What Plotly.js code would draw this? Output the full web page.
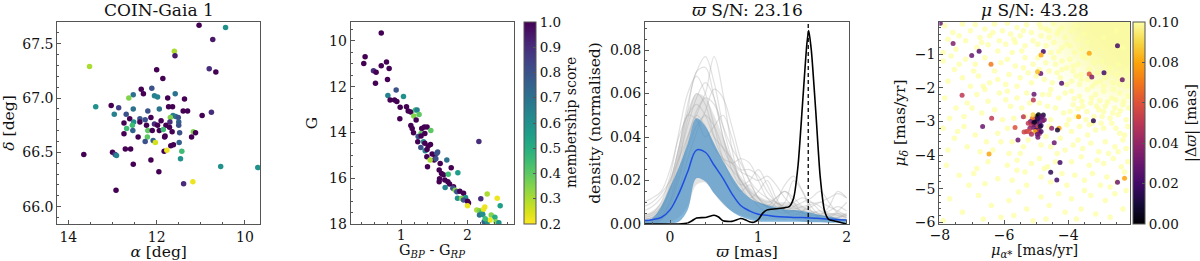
<!DOCTYPE html>
<html><head><meta charset="utf-8">
<script src="https://cdn.plot.ly/plotly-3.0.1.min.js"></script>
<style>body{margin:0;background:#fff}#plot{width:1200px;height:261px}</style>
</head><body><div id="plot"></div>
<script>
// ---------- Panel 1: sky positions ----------
const ra = [11.04,10.44,10.73,11.60,11.585,13.52,10.81,10.66,12.00,11.86,
12.11,12.35,12.30,12.53,12.63,12.05,11.98,11.58,11.75,11.37,
13.38,13.03,12.86,12.53,11.73,11.64,11.94,12.20,11.40,11.30,
10.76,10.97,12.96,12.69,12.13,12.38,12.26,12.61,11.63,11.57,
11.51,11.69,11.70,11.90,11.79,11.50,11.50,12.74,12.52,12.55,
12.38,12.23,12.05,11.98,12.68,12.20,12.10,11.94,11.85,11.71,
11.65,11.48,11.17,11.12,11.21,12.74,12.54,12.42,12.21,12.08,
12.26,12.03,11.81,11.82,11.68,11.62,11.49,12.71,12.59,11.83,
11.77,11.43,13.65,13.00,12.94,12.91,11.46,12.13,12.53,10.55,
9.71,11.95,11.39,11.18,12.92];
const dec = [67.67,67.65,67.54,67.43,67.39,67.29,67.27,67.24,67.26,67.18,
67.09,67.08,67.04,67.03,67.00,67.02,67.01,67.04,67.00,66.99,
66.92,66.93,66.91,66.90,66.92,66.92,66.90,66.88,66.88,66.88,
66.87,66.84,66.85,66.85,66.82,66.81,66.80,66.81,66.84,66.83,
66.82,66.82,66.78,66.79,66.75,66.78,66.75,66.77,66.78,66.75,
66.78,66.75,66.76,66.75,66.72,66.70,66.70,66.70,66.71,66.73,
66.69,66.68,66.69,66.68,66.64,66.67,66.70,66.64,66.64,66.61,
66.60,66.59,66.65,66.64,66.56,66.57,66.59,66.53,66.53,66.51,
66.52,66.51,66.48,66.50,66.48,66.47,66.44,66.43,66.39,66.37,
66.36,66.32,66.21,66.23,66.15];
const skyScore = [1.0,0.6,0.95,0.3,0.95,0.3,0.9,1.0,1.0,1.0,
0.8,1.0,1.0,0.7,0.35,0.65,0.65,0.7,1.0,1.0,
0.6,1.0,0.85,0.7,1.0,1.0,0.7,0.8,1.0,1.0,
0.9,1.0,0.65,0.8,1.0,0.8,0.8,1.0,0.65,0.7,
0.8,0.35,0.9,1.0,1.0,0.75,0.8,1.0,0.6,0.45,
1.0,1.0,0.9,1.0,0.45,0.4,1.0,1.0,0.45,1.0,
1.0,0.8,0.35,1.0,1.0,1.0,0.75,1.0,0.4,0.75,
0.8,0.25,1.0,1.0,1.0,1.0,0.75,1.0,1.0,1.0,
0.22,0.45,1.0,1.0,0.85,0.65,0.6,1.0,1.0,0.6,
0.6,1.0,0.9,0.22,1.0];

// ---------- Panel 2: CMD ----------
const bprp = [0.70,0.457,0.437,0.779,0.70,0.819,0.583,0.623,0.613,0.794,
0.925,0.80,1.035,0.834,0.90,0.935,0.985,1.08,1.106,1.146,
1.216,1.24,1.27,1.19,1.226,0.98,1.146,1.166,1.186,1.31,
1.35,1.39,1.30,1.256,1.30,1.357,1.447,1.25,1.337,1.296,
1.357,1.407,1.442,1.362,1.39,1.387,1.467,1.508,1.538,1.497,
1.523,1.437,1.55,1.397,1.588,1.688,1.573,1.754,1.608,1.638,
1.578,1.573,1.658,1.709,1.854,1.704,1.729,1.789,1.663,1.779,
1.814,1.839,1.884,1.94,1.97,1.849,1.91,1.94,2.0,2.015,
2.0,2.171,2.20,2.296,2.447,2.492,2.14,2.18,2.216,2.241,
2.26,2.18,2.23,2.357,2.412,2.251,2.30,2.34,2.43,2.472,2.266];
const gmag = [9.65,10.69,10.98,10.92,11.08,11.20,11.30,11.37,11.85,11.68,
12.14,12.38,12.43,12.58,12.58,12.64,12.90,12.87,13.06,13.10,
13.02,13.02,13.21,13.28,13.45,13.40,13.69,13.82,14.01,13.82,
13.76,13.76,14.04,14.18,14.15,14.04,13.91,14.40,14.40,14.66,
14.47,14.59,14.53,14.80,14.74,15.06,14.94,14.99,14.91,15.20,
15.15,15.20,14.85,15.50,15.35,15.20,15.64,15.54,15.79,15.85,
16.02,16.15,16.08,15.82,15.76,16.15,16.25,16.37,16.40,16.44,
16.52,16.59,16.57,16.66,16.84,16.87,16.88,16.95,17.01,17.08,
17.20,14.39,16.90,16.69,16.87,17.20,17.39,17.42,17.48,17.36,
17.26,17.61,17.58,17.61,17.71,17.90,17.90,17.83,17.90,17.94,17.77];
const cmdScore = [1.0,1.0,1.0,1.0,1.0,1.0,0.9,1.0,1.0,1.0,
0.8,0.65,0.6,1.0,1.0,1.0,1.0,1.0,1.0,1.0,
0.45,0.65,0.4,0.35,1.0,1.0,1.0,1.0,1.0,1.0,
1.0,1.0,0.4,0.8,1.0,1.0,0.4,1.0,0.6,0.8,
1.0,1.0,1.0,0.65,1.0,1.0,1.0,1.0,0.8,1.0,
0.8,0.3,0.8,1.0,1.0,0.7,1.0,1.0,1.0,1.0,
1.0,1.0,1.0,0.45,0.55,1.0,1.0,1.0,0.65,0.8,
0.35,0.8,1.0,1.0,0.6,0.6,0.35,0.8,1.0,1.0,
0.22,0.9,0.9,0.3,0.22,0.55,0.3,0.35,0.45,0.22,
0.22,0.7,0.6,0.35,0.5,0.75,0.6,0.22,0.35,0.6,0.45];

// ---------- Panel 3: parallax densities ----------
const plxGrid = [-0.3,-0.2,-0.1,0.0,0.1,0.2,0.3,0.4,0.5,0.6,0.7,0.8,0.9,1.0,1.1,1.2,1.3,1.4,1.5,1.6,1.7,1.8,1.9,2.0];
const grayCoreHi = [0.004,0.006,0.010,0.020,0.036,0.052,0.060,0.058,0.050,0.040,0.030,0.022,0.017,0.013,0.011,0.010,0.010,0.010,0.008,0.006,0.005,0.005,0.005,0.004];
const grayCoreLo = [0,0,0,0.001,0.003,0.008,0.018,0.019,0.014,0.009,0.006,0.004,0.003,0.002,0.002,0.002,0.002,0.002,0.001,0.001,0.001,0.001,0.001,0.001];
const g1 = [0.006,0.008,0.012,0.02,0.035,0.055,0.07,0.077,0.065,0.045,0.03,0.02,0.015,0.012,0.01,0.012,0.015,0.012,0.008,0.006,0.005,0.006,0.008,0.006];
const g2 = [0.001,0.002,0.005,0.012,0.028,0.048,0.06,0.055,0.04,0.03,0.025,0.02,0.014,0.01,0.008,0.007,0.01,0.02,0.015,0.008,0.004,0.003,0.005,0.004];
const g3 = [0.0,0.001,0.003,0.01,0.025,0.04,0.052,0.06,0.077,0.06,0.035,0.018,0.012,0.015,0.02,0.012,0.006,0.004,0.006,0.01,0.008,0.004,0.002,0.002];
const g4 = [0.01,0.012,0.015,0.025,0.04,0.05,0.055,0.05,0.04,0.035,0.03,0.025,0.025,0.022,0.015,0.01,0.008,0.01,0.012,0.01,0.006,0.004,0.006,0.01];
const g5 = [0.003,0.004,0.008,0.018,0.035,0.05,0.048,0.04,0.045,0.05,0.04,0.025,0.015,0.008,0.006,0.01,0.018,0.022,0.015,0.006,0.003,0.002,0.003,0.004];
const g6 = [0.002,0.003,0.006,0.015,0.03,0.045,0.058,0.065,0.058,0.04,0.025,0.018,0.02,0.025,0.018,0.01,0.006,0.005,0.004,0.003,0.004,0.008,0.015,0.012];
const g7 = [0.0,0.001,0.002,0.008,0.02,0.035,0.045,0.05,0.045,0.035,0.028,0.03,0.028,0.02,0.012,0.008,0.006,0.008,0.01,0.012,0.015,0.01,0.005,0.003];
const g8 = [0.004,0.005,0.01,0.022,0.042,0.06,0.068,0.06,0.045,0.03,0.02,0.015,0.018,0.012,0.008,0.006,0.005,0.006,0.005,0.004,0.004,0.003,0.002,0.002];
const g9 = [0.0,0.0,0.002,0.006,0.016,0.03,0.042,0.052,0.062,0.058,0.045,0.03,0.02,0.012,0.008,0.012,0.015,0.01,0.005,0.003,0.002,0.002,0.003,0.005];
const g10 = [0.008,0.01,0.014,0.02,0.03,0.04,0.05,0.058,0.055,0.045,0.035,0.028,0.02,0.015,0.012,0.01,0.008,0.007,0.008,0.009,0.01,0.008,0.006,0.004];
const g11 = [0.001,0.002,0.004,0.01,0.022,0.038,0.05,0.045,0.035,0.03,0.028,0.024,0.022,0.02,0.022,0.018,0.012,0.008,0.006,0.008,0.01,0.012,0.014,0.012];
const g12 = [0.002,0.003,0.007,0.016,0.032,0.052,0.07,0.072,0.058,0.04,0.028,0.02,0.014,0.01,0.009,0.008,0.007,0.006,0.005,0.005,0.006,0.005,0.004,0.003];
const blueHi = [0.001,0.0026,0.008,0.017,0.026,0.037,0.0486,0.045,0.037,0.029,0.022,0.016,0.012,0.010,0.0087,0.0077,0.0067,0.0064,0.006,0.0052,0.0041,0.0034,0.0026,0.0018];
const blueLo = [0,0,0,0.0003,0.001,0.0064,0.021,0.0195,0.014,0.0095,0.0057,0.0034,0.002,0.0012,0.001,0.001,0.001,0.001,0.001,0.0008,0.0008,0.0006,0.0006,0.0005];
const blueMed = [0.0015,0.002,0.003,0.0065,0.014,0.024,0.034,0.033,0.027,0.021,0.014,0.0085,0.006,0.0045,0.004,0.0035,0.0032,0.003,0.003,0.0028,0.0025,0.0022,0.002,0.0018];
const clusterPlxX = [-0.3,-0.1,0.1,0.2,0.25,0.3,0.4,0.5,0.55,0.6,0.7,0.8,0.85,0.9,0.95,1.0,1.05,1.1,1.2,1.3,1.35,1.4,1.45,1.5,1.55,1.57,1.6,1.65,1.7,1.75,1.8,1.85,1.9,2.0];
const clusterPlxY = [0,0,0,0.0005,0.0015,0.0028,0.003,0.004,0.0032,0.0015,0.0012,0.0025,0.002,0.001,0.0008,0.002,0.005,0.0065,0.007,0.0075,0.008,0.012,0.027,0.055,0.083,0.089,0.080,0.052,0.022,0.006,0.002,0.0015,0.001,0.0];
const plxCluster = 1.565;

// ---------- Panel 4: proper motions ----------
const pmRA = [-7.99,-7.59,-7.01,-6.78,-6.41,-7.31,-6.39,-6.67,-6.47,-5.66,-5.57,-4.78,-4.85,-4.86,-5.07,-5.09,-4.21,-4.96,-4.52,-4.29,-4.34,-4.44,-4.26,-4.55,-4.36,-4.78,-4.95,-4.90,-3.35,-3.35,-3.27,-2.89,-2.47,-2.32,-3.68,-3.22,-2.47,-2.25,-5.40,-5.30,-5.38,
-5.00,-4.93,-4.88,-5.05,-4.98,-5.10,-4.90,-5.02,-5.15,-4.85,-5.08,-4.95,-5.20,-5.00,-4.92,-5.12,-4.80,-5.18,-4.95,-5.06,-4.88,-5.25,-4.75,-5.04,-5.10,-4.85,-5.22,-5.15,-4.97,-4.82];
const pmDec = [-0.08,-0.68,-1.04,-0.91,-1.30,-2.22,-2.90,-3.15,-3.97,-3.18,-3.55,-0.92,-1.02,-1.57,-2.19,-2.36,-1.86,-1.52,-3.20,-3.20,-3.25,-3.63,-4.22,-4.51,-4.74,-2.81,-3.47,-3.36,-0.97,-1.59,-1.68,-1.55,-0.75,-1.76,-2.86,-2.98,-4.81,-4.69,-2.86,-3.30,-3.31,
-2.85,-2.80,-2.90,-2.95,-3.00,-3.05,-3.05,-3.10,-3.10,-3.12,-3.18,-3.20,-3.20,-3.25,-3.28,-2.90,-2.98,-3.00,-2.92,-3.02,-3.15,-3.05,-2.95,-3.30,-2.80,-3.30,-3.30,-3.38,-3.38,-2.85];
const dPlx = [0.03,0.035,0.03,0.025,0.07,0.05,0.05,0.03,0.08,0.06,0.03,0.02,0.08,0.03,0.03,0.05,0.025,0.085,0.04,0.08,0.01,0.03,0.02,0.015,0.02,0.01,0.03,0.04,0.08,0.06,0.035,0.02,0.02,0.03,0.08,0.015,0.03,0.08,0.05,0.05,0.055,
0.01,0.0,0.02,0.03,0.01,0.02,0.03,0.04,0.05,0.02,0.03,0.06,0.04,0.02,0.05,0.07,0.03,0.03,0.015,0.005,0.01,0.05,0.035,0.08,0.09,0.02,0.06,0.045,0.03,0.025];
// field stars (|Δϖ| beyond colour range)
const fieldStars = [
[-7.85,-0.15],[-7.6,-0.35],[-7.3,-0.1],[-7.75,-0.55],[-7.2,-0.6],[-7.5,-0.85],[-7.05,-0.3],[-7.9,-0.95],
[-6.9,-0.12],[-6.6,-0.25],[-6.3,-0.1],[-6.75,-0.5],[-6.45,-0.45],[-6.15,-0.6],[-6.85,-0.8],[-6.5,-0.72],[-6.2,-0.9],[-6.05,-0.3],
[-5.9,-0.08],[-5.6,-0.2],[-5.3,-0.12],[-5.8,-0.4],[-5.5,-0.45],[-5.15,-0.35],[-5.95,-0.7],[-5.65,-0.65],[-5.35,-0.75],[-5.1,-0.6],[-5.75,-0.95],[-5.45,-0.9],
[-4.9,-0.1],[-4.7,-0.25],[-4.45,-0.08],[-4.2,-0.2],[-4.85,-0.45],[-4.6,-0.5],[-4.35,-0.4],[-4.1,-0.5],[-4.95,-0.7],[-4.7,-0.75],[-4.45,-0.65],[-4.2,-0.8],[-4.55,-0.95],[-4.3,-0.92],[-4.05,-0.7],
[-3.9,-0.3],[-3.7,-0.55],[-3.95,-0.75],[-3.6,-0.85],[-3.8,-0.95],[-3.5,-0.4],[-3.75,-0.15],[-3.4,-0.65],[-2.9,-0.5],[-2.5,-0.3],[-2.3,-0.8],
[-7.9,-1.2],[-7.55,-1.45],[-7.2,-1.15],[-7.75,-1.8],[-7.3,-1.7],[-7.05,-1.95],
[-6.9,-1.3],[-6.6,-1.1],[-6.3,-1.5],[-6.8,-1.65],[-6.45,-1.85],[-6.1,-1.25],[-6.65,-1.95],[-6.2,-1.75],
[-5.9,-1.15],[-5.65,-1.35],[-5.35,-1.1],[-5.1,-1.3],[-5.85,-1.6],[-5.5,-1.7],[-5.25,-1.55],[-5.95,-1.9],[-5.6,-1.95],[-5.15,-1.85],
[-4.95,-1.1],[-4.7,-1.25],[-4.45,-1.1],[-4.2,-1.2],[-4.05,-1.4],[-4.9,-1.45],[-4.6,-1.5],[-4.35,-1.55],[-4.75,-1.75],[-4.5,-1.85],[-4.25,-1.7],[-4.05,-1.9],
[-3.95,-1.15],[-3.7,-1.3],[-3.45,-1.1],[-3.2,-1.25],[-3.85,-1.5],[-3.6,-1.6],[-3.35,-1.45],[-3.1,-1.55],[-3.9,-1.8],[-3.65,-1.9],[-3.4,-1.75],[-3.15,-1.85],[-3.55,-1.05],[-3.25,-1.95],[-3.75,-1.65],
[-2.95,-1.2],[-2.7,-1.4],[-2.45,-1.3],[-2.2,-1.5],[-2.85,-1.7],[-2.6,-1.85],[-2.35,-1.75],[-2.15,-1.95],[-2.9,-1.95],[-2.5,-1.6],
[-7.85,-2.3],[-7.5,-2.6],[-7.15,-2.45],[-7.7,-2.9],[-7.25,-2.85],
[-6.85,-2.2],[-6.5,-2.4],[-6.15,-2.15],[-6.7,-2.75],[-6.3,-2.65],[-6.05,-2.95],
[-5.9,-2.1],[-5.6,-2.3],[-5.3,-2.15],[-5.8,-2.55],[-5.45,-2.6],[-5.2,-2.45],[-5.7,-2.9],[-5.35,-2.85],
[-4.8,-2.2],[-4.55,-2.05],[-4.3,-2.3],[-4.1,-2.15],[-4.65,-2.55],[-4.4,-2.6],[-4.15,-2.75],[-4.55,-2.95],
[-3.9,-2.1],[-3.65,-2.25],[-3.4,-2.05],[-3.15,-2.2],[-3.85,-2.5],[-3.55,-2.55],[-3.3,-2.45],[-3.05,-2.65],[-3.75,-2.85],[-3.45,-2.95],[-3.2,-2.85],[-3.95,-2.7],
[-2.9,-2.1],[-2.65,-2.3],[-2.4,-2.15],[-2.15,-2.25],[-2.85,-2.55],[-2.55,-2.6],[-2.3,-2.5],[-2.95,-2.85],[-2.7,-2.9],[-2.45,-2.8],[-2.2,-2.95],[-2.6,-2.05],
[-7.9,-3.2],[-7.55,-3.5],[-7.25,-3.15],[-7.75,-3.85],[-7.15,-3.75],
[-6.9,-3.4],[-6.55,-3.6],[-6.2,-3.35],[-6.75,-3.9],[-6.35,-3.85],
[-5.9,-3.2],[-5.75,-3.6],[-5.4,-3.75],[-5.25,-3.55],[-5.85,-3.95],[-5.5,-3.95],
[-4.7,-3.45],[-4.55,-3.75],[-4.25,-3.5],[-4.1,-3.85],[-4.85,-3.7],[-4.6,-3.15],[-4.35,-3.95],[-4.05,-3.1],
[-3.9,-3.3],[-3.65,-3.15],[-3.4,-3.4],[-3.15,-3.25],[-3.85,-3.7],[-3.55,-3.8],[-3.3,-3.65],[-3.05,-3.9],[-3.7,-3.55],[-3.25,-3.05],
[-2.9,-3.2],[-2.65,-3.05],[-2.4,-3.35],[-2.15,-3.15],[-2.85,-3.6],[-2.55,-3.75],[-2.3,-3.55],[-2.75,-3.95],[-2.45,-3.9],[-2.2,-3.8],
[-7.8,-4.3],[-7.4,-4.6],[-7.1,-4.9],
[-6.85,-4.4],[-6.5,-4.2],[-6.2,-4.7],[-6.6,-4.85],
[-5.9,-4.3],[-5.6,-4.15],[-5.35,-4.5],[-5.15,-4.25],[-5.75,-4.75],[-5.3,-4.9],
[-4.9,-4.1],[-4.65,-4.35],[-4.4,-4.2],[-4.85,-4.65],[-4.55,-4.8],[-4.2,-4.55],[-4.05,-4.9],
[-3.9,-4.2],[-3.6,-4.05],[-3.35,-4.3],[-3.1,-4.15],[-3.8,-4.6],[-3.5,-4.75],[-3.25,-4.55],[-3.0,-4.9],
[-2.9,-4.25],[-2.6,-4.1],[-2.35,-4.35],[-2.15,-4.2],[-2.8,-4.65],[-2.5,-4.8],[-2.25,-4.5],[-2.7,-4.95],
[-7.7,-5.3],[-7.3,-5.7],[-7.9,-5.95],
[-6.8,-5.2],[-6.4,-5.5],[-6.1,-5.85],[-6.65,-5.9],
[-5.85,-5.35],[-5.55,-5.1],[-5.3,-5.6],[-5.7,-5.8],[-5.1,-5.95],
[-4.85,-5.25],[-4.6,-5.5],[-4.3,-5.15],[-4.1,-5.7],[-4.7,-5.9],
[-3.9,-5.3],[-3.6,-5.6],[-3.3,-5.2],[-3.75,-5.9],[-3.15,-5.75],[-3.5,-5.05],
[-2.85,-5.35],[-2.55,-5.15],[-2.3,-5.6],[-2.7,-5.85],[-2.2,-5.05],
[-3.82,-2.32],[-3.58,-2.4],[-3.28,-2.3],[-3.02,-2.38],[-2.78,-2.42],[-2.52,-2.35],[-2.28,-2.4],[-3.7,-2.62],[-3.42,-2.7],[-3.12,-2.55],
[-2.9,-2.7],[-2.62,-2.75],[-2.38,-2.68],[-2.12,-2.6],[-3.98,-2.95],[-3.35,-3.1],[-2.98,-3.05],[-2.52,-3.2],[-2.25,-3.4],[-3.6,-1.75],
[-3.3,-1.65],[-3.0,-1.8],[-2.75,-1.55],[-2.4,-1.9],[-4.2,-1.45],[-4.4,-1.3],[-3.85,-1.35],[-4.3,-0.3],[-4.6,-0.3],[-4.85,-0.2],
[-5.4,-0.3],[-5.7,-0.55],[-6.35,-0.35],[-6.7,-0.65],[-7.4,-0.45],[-7.65,-1.05],[-7.4,-1.3],[-6.95,-1.5],[-5.4,-1.4],[-5.0,-1.65],
[-4.6,-2.2],[-4.9,-2.45],[-5.95,-2.35],[-6.6,-2.05],[-7.0,-2.6],[-7.45,-3.3],[-6.1,-3.6],[-5.6,-4.45],[-6.95,-4.55],[-4.75,-4.4]];
// density of field stars in the crowded upper-right corner
const denseX = [-5.25,-4.75,-4.25,-3.75,-3.25,-2.75,-2.25,-1.75];
const denseY = [-2.75,-2.25,-1.75,-1.25,-0.75,-0.25,0.25];
const denseZ = [
 [0,0,0,0,0,0,0,0],
 [0,0,0,0.08,0.18,0.3,0.4,0.4],
 [0,0,0.08,0.22,0.45,0.65,0.8,0.8],
 [0,0.08,0.22,0.45,0.75,0.95,1,1],
 [0,0.15,0.4,0.7,0.95,1,1,1],
 [0,0.28,0.6,0.9,1,1,1,1],
 [0,0.28,0.6,0.9,1,1,1,1]];

const inferno = [[0,'#000004'],[0.1,'#160b39'],[0.2,'#420a68'],[0.3,'#6a176e'],[0.4,'#932667'],[0.5,'#bc3754'],[0.6,'#dd513a'],[0.7,'#f37819'],[0.8,'#fca50a'],[0.9,'#f6d746'],[1,'#fcffa4']];

const W = 1200, H = 261;
const yTop = 22, yBot = 224;
const yDom = [(H - yBot) / H, (H - yTop) / H];
const px = v => v / W;

const traces = [];
traces.push({type:'scatter', mode:'markers', x:ra, y:dec, xaxis:'x', yaxis:'y',
  marker:{size:5.5, color:skyScore, coloraxis:'coloraxis', line:{width:0}}, hoverinfo:'skip'});
traces.push({type:'scatter', mode:'markers', x:bprp, y:gmag, xaxis:'x2', yaxis:'y2',
  marker:{size:5.5, color:cmdScore, coloraxis:'coloraxis', line:{width:0}}, hoverinfo:'skip'});

// panel 3
traces.push({type:'scatter', mode:'lines', x:plxGrid, y:grayCoreLo, xaxis:'x3', yaxis:'y3', line:{width:0, shape:'spline'}, hoverinfo:'skip'});
traces.push({type:'scatter', mode:'lines', x:plxGrid, y:grayCoreHi, xaxis:'x3', yaxis:'y3', fill:'tonexty', fillcolor:'rgba(185,185,185,0.4)', line:{width:0, shape:'spline'}, hoverinfo:'skip'});
[g1,g2,g3,g4,g5,g6,g7,g8,g9,g10,g11,g12].forEach(g => {
  traces.push({type:'scatter', mode:'lines', x:plxGrid, y:g, xaxis:'x3', yaxis:'y3', line:{width:1.2, color:'rgba(170,170,170,0.35)', shape:'spline'}, hoverinfo:'skip'});
});
traces.push({type:'scatter', mode:'lines', x:plxGrid, y:blueLo, xaxis:'x3', yaxis:'y3', line:{width:0, shape:'spline'}, hoverinfo:'skip'});
traces.push({type:'scatter', mode:'lines', x:plxGrid, y:blueHi, xaxis:'x3', yaxis:'y3', fill:'tonexty', fillcolor:'rgba(55,135,195,0.62)', line:{width:0, shape:'spline'}, hoverinfo:'skip'});
traces.push({type:'scatter', mode:'lines', x:plxGrid, y:blueMed, xaxis:'x3', yaxis:'y3', line:{width:1.5, color:'#1f4fe0', shape:'spline'}, hoverinfo:'skip'});
traces.push({type:'scatter', mode:'lines', x:clusterPlxX, y:clusterPlxY, xaxis:'x3', yaxis:'y3', line:{width:1.6, color:'#000', shape:'spline', smoothing:0.6}, hoverinfo:'skip'});

// panel 4
traces.push({type:'heatmap', x:denseX, y:denseY, z:denseZ, xaxis:'x4', yaxis:'y4', zsmooth:'best', showscale:false,
  colorscale:[[0,'rgba(251,251,168,0)'],[1,'rgba(250,250,165,1)']], zmin:0, zmax:1, hoverinfo:'skip'});
traces.push({type:'scatter', mode:'markers', x:fieldStars.map(p=>p[0]), y:fieldStars.map(p=>p[1]), xaxis:'x4', yaxis:'y4',
  marker:{size:5.5, color:'#fcffa4', opacity:0.75, line:{width:0}}, hoverinfo:'skip'});
traces.push({type:'scatter', mode:'markers', x:pmRA, y:pmDec, xaxis:'x4', yaxis:'y4',
  marker:{size:5, color:dPlx, coloraxis:'coloraxis2', opacity:0.85, line:{width:0}}, hoverinfo:'skip'});

const tickF = {family:'DejaVu Serif', size:14, color:'#111'};
const cbTickF = {family:'DejaVu Serif', size:13.5, color:'#111'};
const axBase = {showline:true, linecolor:'#555', linewidth:1, mirror:true, ticks:'inside', ticklen:4, tickwidth:1, tickcolor:'#555',
  showgrid:false, zeroline:false, tickfont:tickF, tickmode:'linear',
  minor:{ticks:'inside', ticklen:2, tickcolor:'#555', showgrid:false}, fixedrange:true};
const ax = (o) => Object.assign({}, axBase, o, {minor:Object.assign({}, axBase.minor, o.minor || {})});
const tfont = {family:'DejaVu Serif', size:15.5, color:'#111'};
const subF = {family:'DejaVu Serif', size:14.5, color:'#111'};
const headF = {family:'DejaVu Serif', size:17, color:'#111'};

const layout = {
  width:W, height:H, margin:{l:0, r:0, t:0, b:0}, paper_bgcolor:'#fff', plot_bgcolor:'#fff', showlegend:false,
  font:{family:'DejaVu Serif', size:14, color:'#111'}, hovermode:false,
  xaxis: ax({domain:[px(57.3), px(260)], range:[14.25, 9.66], tick0:10, dtick:2, minor:{tick0:10, dtick:0.5}, anchor:'y',
    title:{text:'<i>α</i> [deg]', font:tfont, standoff:3}}),
  yaxis: ax({domain:yDom, range:[65.84, 67.70], tick0:66, dtick:0.5, tickformat:'.1f', minor:{tick0:66, dtick:0.1}, anchor:'x',
    title:{text:'<i>δ</i> [deg]', font:tfont, standoff:5}}),
  xaxis2: ax({domain:[px(350.7), px(514)], range:[0.24, 2.70], tick0:0, dtick:1, minor:{tick0:0, dtick:0.2}, anchor:'y2', ticklabelstandoff:-2}),
  yaxis2: ax({domain:yDom, range:[18, 9.17], tick0:10, dtick:2, minor:{tick0:10, dtick:0.5}, anchor:'x2',
    title:{text:'G', font:tfont, standoff:7}}),
  xaxis3: ax({domain:[px(645), px(849.3)], range:[-0.283, 2.03], tick0:0, dtick:1, minor:{tick0:0, dtick:0.2}, anchor:'y3',
    title:{text:'<i>ϖ</i> [mas]', font:tfont, standoff:3}}),
  yaxis3: ax({domain:yDom, range:[0, 0.0929], tick0:0, dtick:0.02, tickformat:'.2f', minor:{tick0:0, dtick:0.005}, anchor:'x3',
    title:{text:'density (normalised)', font:tfont, standoff:5}}),
  xaxis4: ax({domain:[px(939.3), px(1130)], range:[-8.02, -2.08], tick0:-8, dtick:2, minor:{tick0:-8, dtick:0.5}, anchor:'y4', ticklabelstandoff:-2}),
  yaxis4: ax({domain:yDom, range:[-6.05, -0.04], tick0:-6, dtick:1, minor:{tick0:-6, dtick:0.2}, anchor:'x4',
    title:{text:'<i>μ<sub>δ</sub></i> [mas/yr]', font:tfont, standoff:5}}),
  coloraxis:{cmin:0.2, cmax:1.0, colorscale:'Viridis', reversescale:true,
    colorbar:{x:px(524.3), xanchor:'left', xpad:0, y:yDom[0], yanchor:'bottom', ypad:0, len:yDom[1]-yDom[0], lenmode:'fraction',
      thickness:12, outlinewidth:1, outlinecolor:'#555', tickmode:'linear', tick0:0.2, dtick:0.1, tickformat:'.1f',
      ticks:'inside', ticklen:3, tickcolor:'#555', tickfont:cbTickF}},
  coloraxis2:{cmin:0, cmax:0.1, colorscale:inferno,
    colorbar:{x:px(1132.7), xanchor:'left', xpad:0, y:yDom[0], yanchor:'bottom', ypad:0, len:yDom[1]-yDom[0], lenmode:'fraction',
      thickness:12, outlinewidth:1, outlinecolor:'#555', tickmode:'linear', tick0:0, dtick:0.02, tickformat:'.2f',
      ticks:'inside', ticklen:3, tickcolor:'#555', tickfont:cbTickF}},
  shapes:[{type:'line', xref:'x3', yref:'y3 domain', x0:plxCluster, x1:plxCluster, y0:0, y1:1, line:{color:'#000', width:1.3, dash:'4px,3px'}}],
  annotations:[
    {text:'COIN-Gaia 1', xref:'paper', yref:'paper', x:(px(57.3)+px(260))/2, y:yDom[1], yanchor:'bottom', xanchor:'center', showarrow:false, font:headF},
    {text:'<i>ϖ</i> S/N: 23.16', xref:'paper', yref:'paper', x:(px(645)+px(849.3))/2, y:yDom[1], yanchor:'bottom', xanchor:'center', showarrow:false, font:headF},
    {text:'<i>μ</i> S/N: 43.28', xref:'paper', yref:'paper', x:(px(939.3)+px(1130))/2, y:yDom[1], yanchor:'bottom', xanchor:'center', showarrow:false, font:headF},
    {text:'G<sub><i>BP</i></sub> - G<sub><i>RP</i></sub>', xref:'paper', yref:'paper', x:(px(350.7)+px(514))/2, y:0, xanchor:'center', yanchor:'bottom', showarrow:false, font:subF, borderpad:0},
    {text:'<i>μ<sub>α*</sub></i> [mas/yr]', xref:'paper', yref:'paper', x:(px(939.3)+px(1130))/2, y:0, xanchor:'center', yanchor:'bottom', showarrow:false, font:subF, borderpad:0},
    {text:'membership score', xref:'paper', yref:'paper', x:px(571), y:(yDom[0]+yDom[1])/2, xanchor:'center', yanchor:'middle', textangle:-90, showarrow:false, font:{family:'DejaVu Serif', size:14, color:'#111'}},
    {text:'|Δ<i>ϖ</i>| [mas]', xref:'paper', yref:'paper', x:px(1191), y:(yDom[0]+yDom[1])/2, xanchor:'center', yanchor:'middle', textangle:-90, showarrow:false, font:{family:'DejaVu Serif', size:14.5, color:'#111'}}
  ]
};

Plotly.newPlot('plot', traces, layout, {staticPlot:true, displayModeBar:false});
</script></body></html>
